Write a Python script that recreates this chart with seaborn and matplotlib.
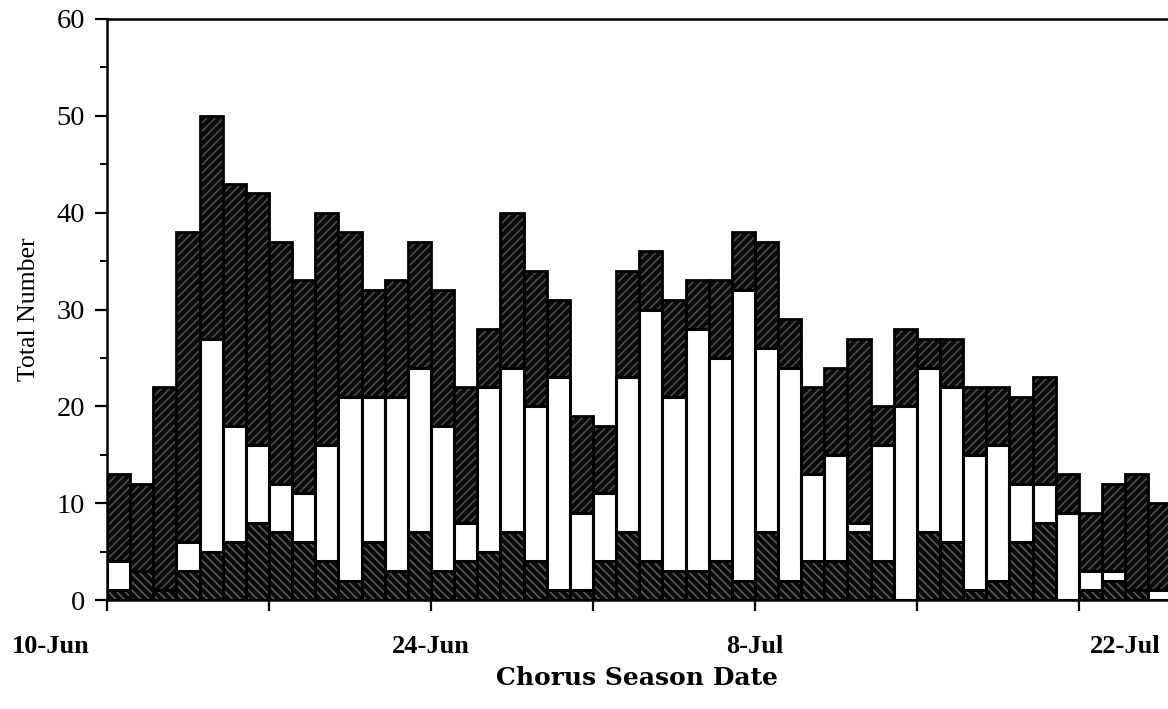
import numpy as np
import pandas as pd
import matplotlib
matplotlib.use("Agg")
import matplotlib.pyplot as plt
import seaborn as sns
from matplotlib.transforms import ScaledTranslation

# Daily chorus counts, day 0 = 10-Jun
days = list(range(46))
bottom_counts = [1, 3, 1, 3, 5, 6, 8, 7, 6, 4, 2, 6, 3, 7, 3, 4, 5, 7, 4, 1,
                 1, 4, 7, 4, 3, 3, 4, 2, 7, 2, 4, 4, 7, 4, 0, 7, 6, 1, 2, 6,
                 8, 0, 1, 2, 1, 0]
middle_counts = [3, 0, 0, 3, 22, 12, 8, 5, 5, 12, 19, 15, 18, 17, 15, 4, 17, 17, 16, 22,
                 8, 7, 16, 26, 18, 25, 21, 30, 19, 22, 9, 11, 1, 12, 20, 17, 16, 14, 14, 6,
                 4, 9, 2, 1, 0, 1]
total_counts = [13, 12, 22, 38, 50, 43, 42, 37, 33, 40, 38, 32, 33, 37, 32, 22, 28, 40, 34, 31,
                19, 18, 34, 36, 31, 33, 33, 38, 37, 29, 22, 24, 27, 20, 28, 27, 27, 22, 22, 21,
                23, 13, 9, 12, 13, 10]
tick_days = [0, 7, 14, 21, 28, 35, 42]
tick_labels = ["10-Jun", "", "24-Jun", "", "8-Jul", "", "22-Jul"]

sns.set_style("ticks")
plt.rcParams["font.family"] = ["Liberation Serif", "DejaVu Serif"]
plt.rcParams["hatch.linewidth"] = 1.2
for key in ["text.color", "axes.labelcolor", "xtick.color", "ytick.color",
            "axes.edgecolor"]:
    plt.rcParams[key] = "black"

df = pd.DataFrame({
    "pos": np.array(days) + 0.5,
    "bottom": bottom_counts,
    "middle": middle_counts,
    "total": total_counts,
})

W, H = 1168, 709
fig = plt.figure(figsize=(W / 100, H / 100), dpi=100)
ax = fig.add_axes([107 / W, 1 - 600 / H, (W - 107) / W, (600 - 19) / H])

dark = "#0a0a0a"
common = dict(data=df, x="pos", native_scale=True, width=1.0, errorbar=None,
              saturation=1, ax=ax)

# full column, upper hatch
sns.barplot(y="total", color=dark, edgecolor="#4a4a4a", linewidth=0,
            hatch="////", **common)
# lower hatched segment
sns.barplot(y="bottom", color=dark, edgecolor="#585858", linewidth=0,
            hatch="\\\\\\\\", **common)
# open middle segment
sns.barplot(y="middle", bottom=df["bottom"].to_numpy(), color="white",
            edgecolor="black", linewidth=2.2, **common)
# column outlines
sns.barplot(y="total", fill=False, color="black", linewidth=2.0, **common)

ax.set_xlim(0, (W - 107) / 23.14)
ax.set_ylim(0, 60)
ax.set_yticks(range(0, 61, 10))
ax.set_yticks(range(5, 60, 10), minor=True)
ax.set_xticks(tick_days)
ax.set_xticklabels(tick_labels, fontweight="bold", fontsize=19)
ax.tick_params(axis="y", which="major", direction="out", length=9, width=1.6,
               labelsize=20.5, pad=7)
ax.tick_params(axis="y", which="minor", direction="out", length=5, width=1.4)
ax.tick_params(axis="x", which="major", direction="out", length=8, width=1.6,
               pad=17)

# shift the end labels outward
lbls = ax.get_xticklabels()
lbls[0].set_transform(lbls[0].get_transform() +
                      ScaledTranslation(-0.56, 0, fig.dpi_scale_trans))
lbls[-1].set_transform(lbls[-1].get_transform() +
                       ScaledTranslation(0.46, 0, fig.dpi_scale_trans))

for side in ["left", "bottom", "top"]:
    ax.spines[side].set_linewidth(1.8)
ax.spines["right"].set_visible(False)

ax.set_ylabel("Total Number", fontsize=18.5, labelpad=12)
ax.set_xlabel("Chorus Season Date", fontsize=18, fontweight="bold",
              family=["DejaVu Serif"], labelpad=6)

fig.savefig("out.png", dpi=100)
